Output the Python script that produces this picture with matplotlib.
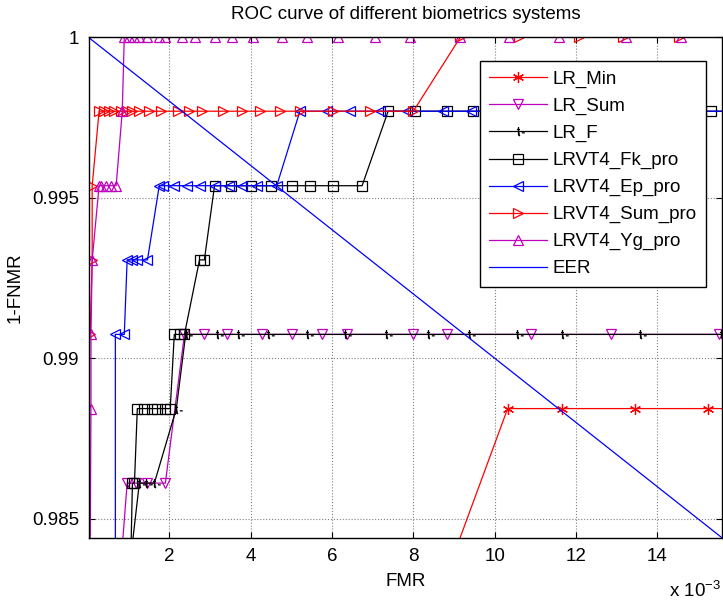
import matplotlib
matplotlib.use("Agg")
import matplotlib.pyplot as plt
from matplotlib.path import Path

plt.rcParams['font.family'] = ['Liberation Sans', 'DejaVu Sans']

# FMR values are in units of 1e-3
min_x = [8.30, 10.32, 11.65, 13.46, 15.26, 17.0]
min_y = [0.98148, 0.98843, 0.98843, 0.98843, 0.98843, 0.98843]

sum_x = [0.82, 0.96, 1.19, 1.46, 1.90, 2.37, 2.84, 3.41, 4.27, 5.01, 5.75, 6.37,
         8.00, 8.84, 10.89, 12.86, 15.53, 16.5]
sum_y = [0.98380, 0.98611, 0.98611, 0.98611, 0.98611] + [0.99074] * 13

f_x = [1.05, 1.26, 1.43, 1.63, 2.17, 2.40, 3.16, 3.68, 4.42, 5.38, 6.32, 7.33,
       8.37, 9.38, 10.54, 11.65, 13.58, 15.58, 16.5]
f_y = [0.98380, 0.98611, 0.98611, 0.98611, 0.98843] + [0.99074] * 14

fk_x = [1.05, 1.09, 1.14, 1.21, 1.38, 1.56, 1.70, 1.88, 2.02, 2.12, 2.27, 2.37,
        2.74, 2.86, 3.11, 3.51, 4.00, 4.49, 5.01, 5.46, 6.02, 6.74,
        7.38, 8.05, 8.84, 9.46, 10.30, 11.20, 12.40, 13.50, 15.33, 16.0]
fk_y = ([0.98380, 0.98611, 0.98611] + [0.98843] * 6 + [0.99074] * 3
        + [0.99306] * 2 + [0.99537] * 8 + [0.99769] * 10)

ep_x = [0.67, 0.67, 0.89, 0.96, 1.09, 1.21, 1.46, 1.75, 1.85, 2.12, 2.44, 2.74,
        3.11, 3.46, 3.78, 4.15, 4.64, 5.21, 5.88, 6.44, 7.19, 7.85, 8.74, 9.41,
        10.2, 11.0, 12.5, 14.0, 16.0]
ep_y = ([0.98380, 0.99074, 0.99074] + [0.99306] * 4 + [0.99537] * 10
        + [0.99769] * 12)

sp_x = [0.05, 0.10, 0.10, 0.27, 0.40, 0.52, 0.64, 0.81, 0.96, 1.09, 1.26, 1.51,
        1.80, 2.20, 2.49, 2.81, 3.31, 3.78, 4.22, 4.72, 5.21, 6.02, 6.94, 8.00,
        9.16, 10.59, 12.07, 13.16, 14.54, 16.0]
sp_y = [0.99074, 0.99306, 0.99537] + [0.99769] * 21 + [1.0] * 6

yg_x = [0.05, 0.07, 0.07, 0.10, 0.27, 0.32, 0.44, 0.57, 0.69, 0.84, 0.89, 1.01,
        1.14, 1.26, 1.46, 1.75, 1.88, 2.30, 2.62, 3.11, 3.53, 4.05, 4.77, 5.38,
        6.15, 7.06, 7.93, 9.16, 10.35, 11.58, 13.23, 14.59, 16.0]
yg_y = ([0.98380, 0.98843, 0.99074, 0.99306] + [0.99537] * 5 + [0.99769]
        + [1.0] * 23)

eer_x = [0.0, 16.0]
eer_y = [1.0, 0.984]

labels = ['LR_Min', 'LR_Sum', 'LR_F', 'LRVT4_Fk_pro', 'LRVT4_Ep_pro',
          'LRVT4_Sum_pro', 'LRVT4_Yg_pro', 'EER']

# odd little "t-" glyph used for LR_F
t_marker = Path([(0, 1), (0, -0.8), (0.35, -1), (-0.35, 0.45), (0.3, 0.45),
                 (0.75, -0.3), (1.4, -0.3)],
                [Path.MOVETO, Path.LINETO, Path.LINETO, Path.MOVETO, Path.LINETO,
                 Path.MOVETO, Path.LINETO])

fig = plt.figure(figsize=(7.23, 6.02), dpi=100)
ax = fig.add_axes([0.123, 0.1063, 0.876, 0.8322])

lw = 0.9
ms = 7.5
fs = 13.5
ax.plot(min_x, min_y, color='r', lw=lw, marker=(6, 2, 0), ms=8, mew=0.9, label=labels[0])
ax.plot(sum_x, sum_y, color='m', lw=lw, marker='v', ms=ms, mfc='none', mew=0.9, label=labels[1])
ax.plot(f_x, f_y, color='k', lw=lw, marker=t_marker, ms=9, mew=0.9, label=labels[2])
ax.plot(fk_x, fk_y, color='k', lw=lw, marker='s', ms=ms, mfc='none', mew=0.9, label=labels[3])
ax.plot(ep_x, ep_y, color='b', lw=lw, marker='<', ms=ms, mfc='none', mew=0.9, label=labels[4])
ax.plot(sp_x, sp_y, color='r', lw=lw, marker='>', ms=ms, mfc='none', mew=0.9, label=labels[5])
ax.plot(yg_x, yg_y, color='m', lw=lw, marker='^', ms=ms, mfc='none', mew=0.9, label=labels[6])
ax.plot(eer_x, eer_y, color='b', lw=lw, label=labels[7])

ax.set_xlim(0.02, 15.6)
ax.set_ylim(0.9844, 1.0)
ax.set_xticks([2, 4, 6, 8, 10, 12, 14])
ax.set_yticks([0.985, 0.99, 0.995, 1.0])
ax.set_yticklabels(['0.985', '0.99', '0.995', '1'])
ax.tick_params(direction='in', top=True, right=True, length=4, labelsize=fs, pad=7)
ax.grid(True, color='#808080', linestyle=':', linewidth=0.8)
for s in ax.spines.values():
    s.set_linewidth(1.0)

ax.set_title('ROC curve of different biometrics systems', fontsize=fs, pad=13)
ax.set_xlabel('FMR', fontsize=fs, labelpad=6)
ax.set_ylabel('1-FNMR', fontsize=fs, labelpad=6)
fig.text(0.925, 0.008, r'x 10$^{\mathregular{-3}}$', fontsize=fs)

leg = ax.legend(loc='upper right', bbox_to_anchor=(0.989, 0.970), fontsize=fs,
                numpoints=1, handlelength=3.1, handletextpad=0.27, labelspacing=0.52,
                borderpad=0.5, fancybox=False, framealpha=1, edgecolor='k')
leg.get_frame().set_linewidth(1.0)

fig.savefig('out.png', dpi=100)
